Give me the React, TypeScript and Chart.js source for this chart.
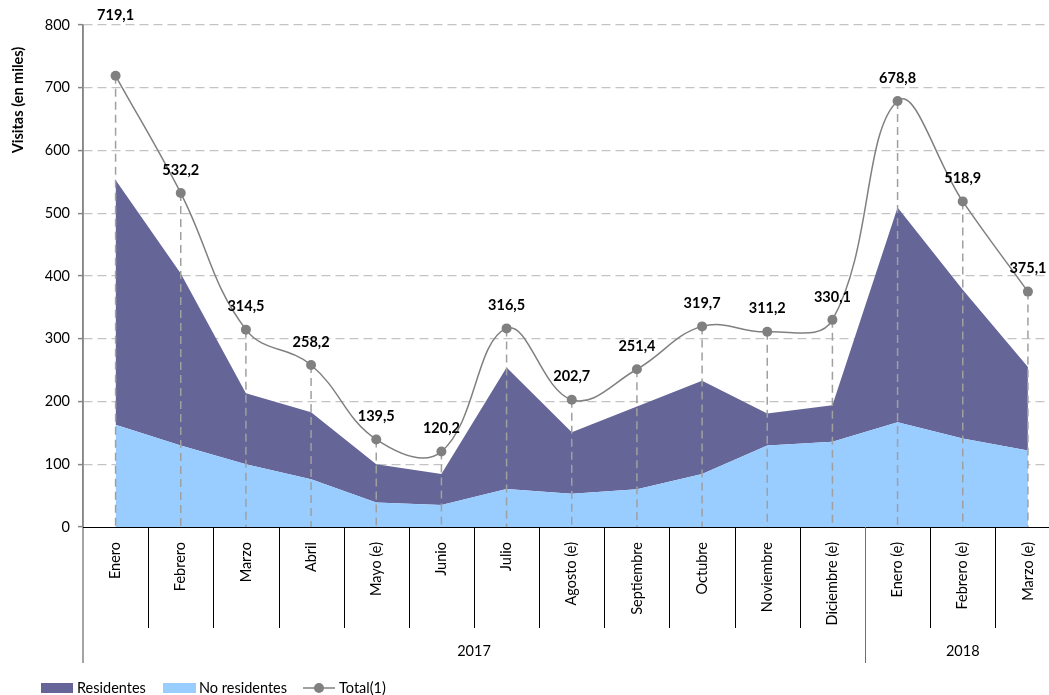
import React, { useEffect, useRef } from "react";
import { Chart, registerables } from "chart.js";

Chart.register(...registerables);

const months = [
  "Enero", "Febrero", "Marzo", "Abril", "Mayo (e)", "Junio", "Julio", "Agosto (e)",
  "Septiembre", "Octubre", "Noviembre", "Diciembre (e)", "Enero (e)", "Febrero (e)", "Marzo (e)",
];
const yearLabels = ["2017", "2018"];
const yearSpans = [12, 3];
const noResidentes = [163, 130, 100, 76, 39, 35, 60.5, 53, 60, 84.5, 130, 136, 167, 141, 122];
const residentes = [390, 274, 113, 107, 61, 49.5, 193.5, 98, 132, 148.5, 51, 58, 342, 237, 133];
const total = [719.1, 532.2, 314.5, 258.2, 139.5, 120.2, 316.5, 202.7, 251.4, 319.7, 311.2, 330.1, 678.8, 518.9, 375.1];
const yTicks = [0, 100, 200, 300, 400, 500, 600, 700, 800];

const labelOffsets = [60, 23, 23, 23, 23, 23, 23, 23, 23, 23, 23, 23, 23, 23, 23];

const FONT = "Lato, 'Open Sans', sans-serif";
const C_RES = "#656598";
const C_NORES = "#99CCFF";
const C_TOTAL = "#808080";

const fmt = (v: number) => v.toFixed(1).replace(".", ",");

const decorPlugin = {
  id: "decor",
  beforeDatasetDraw(chart: any, args: any) {
    if (args.index !== 2) return;
    const ctx = chart.ctx;
    const meta = chart.getDatasetMeta(2);
    const bottom = chart.chartArea.bottom;
    ctx.save();
    ctx.strokeStyle = "#A0A0A0";
    ctx.lineWidth = 1.5;
    ctx.setLineDash([8, 5]);
    meta.data.forEach((pt: any) => {
      ctx.beginPath();
      ctx.moveTo(pt.x, pt.y);
      ctx.lineTo(pt.x, bottom);
      ctx.stroke();
    });
    ctx.restore();
  },
  afterDatasetsDraw(chart: any) {
    const ctx = chart.ctx;
    const meta = chart.getDatasetMeta(2);
    ctx.save();
    ctx.font = `bold 14.5px ${FONT}`;
    ctx.fillStyle = "#000";
    ctx.textAlign = "center";
    ctx.textBaseline = "middle";
    meta.data.forEach((pt: any, i: number) => {
      ctx.fillText(fmt(total[i]), pt.x, pt.y - labelOffsets[i]);
    });
    ctx.restore();
  },
  afterDraw(chart: any) {
    const ctx = chart.ctx;
    const area = chart.chartArea;
    const xs = chart.scales.x;
    const half = (xs.getPixelForValue(1) - xs.getPixelForValue(0)) / 2;
    ctx.save();
    // y axis line (solid) with extension below the plot
    ctx.setLineDash([]);
    ctx.strokeStyle = "#868686";
    ctx.lineWidth = 1.5;
    ctx.beginPath();
    ctx.moveTo(area.left, area.top);
    ctx.lineTo(area.left, area.bottom + 136);
    ctx.stroke();
    // x axis line
    ctx.strokeStyle = "#000";
    ctx.lineWidth = 1;
    ctx.beginPath();
    ctx.moveTo(area.left, Math.round(area.bottom) + 0.5);
    ctx.lineTo(area.right, Math.round(area.bottom) + 0.5);
    ctx.stroke();
    // separators
    const yearBounds: number[] = [];
    let acc = 0;
    yearSpans.forEach((s) => { acc += s; yearBounds.push(acc); });
    for (let i = 1; i < months.length; i++) {
      const x = Math.round(xs.getPixelForValue(i) - half) + 0.5;
      const long = yearBounds.includes(i);
      ctx.strokeStyle = long ? "#707070" : "#000";
      ctx.beginPath();
      ctx.moveTo(x, area.bottom);
      ctx.lineTo(x, area.bottom + (long ? 136 : 101));
      ctx.stroke();
    }
    // year labels
    ctx.font = `14.5px ${FONT}`;
    ctx.fillStyle = "#000";
    ctx.textAlign = "center";
    ctx.textBaseline = "middle";
    let start = 0;
    yearSpans.forEach((s, k) => {
      const l = xs.getPixelForValue(start) - half;
      const r = xs.getPixelForValue(start + s - 1) + half;
      ctx.fillText(yearLabels[k], (l + r) / 2, area.bottom + 124);
      start += s;
    });
    // axis title
    ctx.save();
    ctx.translate(18, 100);
    ctx.rotate(-Math.PI / 2);
    ctx.font = `bold 14.5px ${FONT}`;
    ctx.fillText("Visitas (en miles)", 0, 0);
    ctx.restore();
    // legend
    const ly = 688;
    ctx.textAlign = "left";
    ctx.font = `14.5px ${FONT}`;
    ctx.fillStyle = C_RES;
    ctx.fillRect(41, ly - 5, 32, 10);
    ctx.fillStyle = "#000";
    ctx.fillText("Residentes", 77, ly);
    ctx.fillStyle = C_NORES;
    ctx.fillRect(163, ly - 5, 33, 10);
    ctx.fillStyle = "#000";
    ctx.fillText("No residentes", 199, ly);
    ctx.strokeStyle = C_TOTAL;
    ctx.lineWidth = 1.5;
    ctx.beginPath();
    ctx.moveTo(303, ly);
    ctx.lineTo(335, ly);
    ctx.stroke();
    ctx.fillStyle = C_TOTAL;
    ctx.beginPath();
    ctx.arc(319, ly, 5, 0, Math.PI * 2);
    ctx.fill();
    ctx.fillStyle = "#000";
    ctx.fillText("Total(1)", 339, ly);
    ctx.restore();
  },
};

export default function App() {
  const ref = useRef<HTMLCanvasElement | null>(null);
  useEffect(() => {
    if (!ref.current) return;
    const chart = new Chart(ref.current, {
      type: "line",
      data: {
        labels: months,
        datasets: [
          {
            label: "No residentes",
            data: noResidentes,
            backgroundColor: C_NORES,
            borderWidth: 0,
            pointRadius: 0,
            fill: "origin",
            stack: "areas",
            tension: 0,
          },
          {
            label: "Residentes",
            data: residentes,
            backgroundColor: C_RES,
            borderWidth: 0,
            pointRadius: 0,
            fill: "-1",
            stack: "areas",
            tension: 0,
          },
          {
            label: "Total(1)",
            data: total,
            borderColor: C_TOTAL,
            backgroundColor: C_TOTAL,
            borderWidth: 1.5,
            pointRadius: 5,
            pointBackgroundColor: C_TOTAL,
            pointBorderWidth: 0,
            fill: false,
            stack: "total",
            tension: 0.4,
            order: -1,
          },
        ],
      },
      options: {
        animation: false,
        responsive: false,
        maintainAspectRatio: false,
        devicePixelRatio: 1,
        layout: { padding: { left: 0, top: 25, right: 14.5, bottom: 0 } },
        plugins: {
          legend: { display: false },
          tooltip: { enabled: false },
        },
        scales: {
          x: {
            type: "category",
            offset: true,
            grid: { display: false, drawTicks: false },
            border: { display: true, color: "#000", width: 1 },
            ticks: {
              autoSkip: false,
              minRotation: 90,
              maxRotation: 90,
              padding: 15,
              color: "#000",
              font: { family: FONT, size: 14.5 },
            },
            afterFit: (s: any) => { s.height = 168; },
          },
          y: {
            stacked: true,
            min: 0,
            max: 800,
            afterBuildTicks: (s: any) => { s.ticks = yTicks.map((v) => ({ value: v })); },
            grid: {
              color: (c: any) => (c.tick && c.tick.value === 0 ? "rgba(0,0,0,0)" : "#C4C4C4"),
              lineWidth: 1.2,
              tickColor: "#868686",
              tickLength: 5,
              tickBorderDash: [],
              tickWidth: 1.5,
            },
            border: { display: true, color: "#868686", width: 1.5, dash: [9, 5] },
            ticks: {
              padding: 8,
              color: "#000",
              font: { family: FONT, size: 14.5 },
            },
            afterFit: (s: any) => { s.width = 83; },
          },
        },
      },
      plugins: [decorPlugin],
    });
    return () => chart.destroy();
  }, []);
  return (
    <div style={{ position: "fixed", left: 0, top: 0, width: 1049, height: 695, overflow: "hidden", background: "#fff" }}>
      <canvas ref={ref} width={1075} height={695} style={{ display: "block", width: 1075, height: 695 }} />
    </div>
  );
}
